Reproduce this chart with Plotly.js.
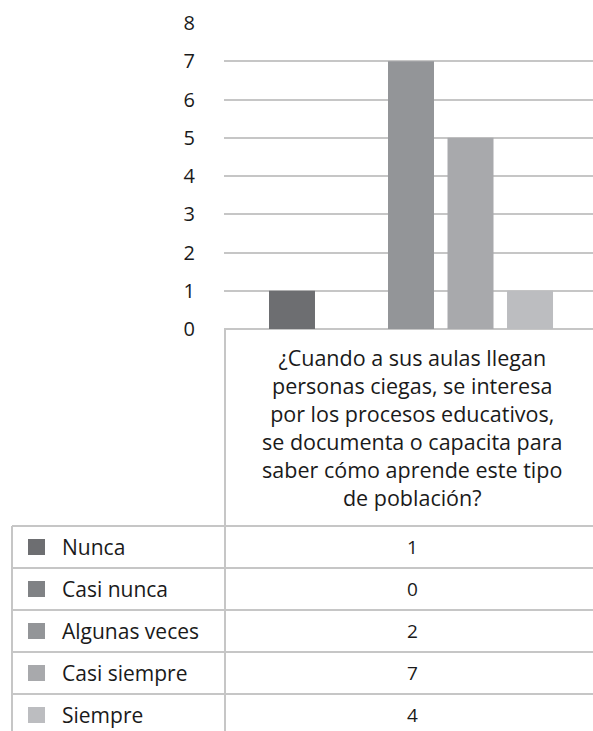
<!DOCTYPE html>
<html>
<head>
<meta charset="utf-8">
<script src="https://cdn.plot.ly/plotly-3.0.1.min.js"></script>
<style>
  html, body { margin: 0; padding: 0; background: #ffffff; }
  #chart { width: 593px; height: 731px; }
</style>
</head>
<body>
<div id="chart"></div>
<script>
// ---- data ----
var question = "¿Cuando a sus aulas llegan<br>personas ciegas, se interesa<br>por los procesos educativos,<br>se documenta o capacita para<br>saber cómo aprende este tipo<br>de población?";
var seriesNames = ["Nunca", "Casi nunca", "Algunas veces", "Casi siempre", "Siempre"];
var barValues = [1, 0, 7, 5, 1];          // bar heights as drawn
var tableValues = ["1", "0", "2", "7", "4"]; // numbers printed in the data table
var seriesColors = ["#6d6e71", "#808285", "#939598", "#a8a9ac", "#bcbdc0"];
var yTicks = [0, 1, 2, 3, 4, 5, 6, 7, 8];

// ---- layout helpers (pixel -> paper) ----
var W = 593, H = 731;
var L = 224, R = 0, T = 23, B = 402;
var pw = W - L - R, ph = H - T - B;
function px(x) { return (x - L) / pw; }
function py(y) { return (H - B - y) / ph; }

var FONT = "Open Sans, Noto Sans, sans-serif";
var LINE = "#c6c6c6";

var traces = seriesNames.map(function (name, i) {
  return {
    type: "bar",
    name: name,
    x: [question],
    y: [barValues[i]],
    marker: { color: seriesColors[i], line: { width: 0 } },
    hoverinfo: "name+y",
    showlegend: false
  };
});

var shapes = [];
var annotations = [];

// column divider (category boundary) from axis down through table
shapes.push({ type: "line", xref: "paper", yref: "paper",
  x0: px(225), x1: px(225), y0: py(329), y1: py(740),
  line: { color: LINE, width: 2 } });
// table left border
shapes.push({ type: "line", xref: "paper", yref: "paper",
  x0: px(12), x1: px(12), y0: py(526), y1: py(740),
  line: { color: LINE, width: 2 } });

var rowTop = 526, rowH = 42;
for (var r = 0; r <= seriesNames.length; r++) {
  var yy = rowTop + r * rowH;
  shapes.push({ type: "line", xref: "paper", yref: "paper",
    x0: px(12), x1: px(600), y0: py(yy), y1: py(yy),
    line: { color: LINE, width: 2 } });
}

seriesNames.forEach(function (name, i) {
  var cy = rowTop + i * rowH + rowH / 2;
  // legend key
  shapes.push({ type: "rect", xref: "paper", yref: "paper",
    x0: px(28), x1: px(45), y0: py(cy - 8), y1: py(cy + 8),
    fillcolor: seriesColors[i], line: { width: 0 } });
  annotations.push({ xref: "paper", yref: "paper",
    x: px(60), y: py(cy), xanchor: "left", yanchor: "middle",
    text: name, showarrow: false,
    font: { family: FONT, size: 21, color: "#1a1a1a" } });
  annotations.push({ xref: "paper", yref: "paper",
    x: px(412), y: py(cy), xanchor: "center", yanchor: "middle",
    text: tableValues[i], showarrow: false,
    font: { family: FONT, size: 19, color: "#1a1a1a" } });
});

// category label
annotations.push({ xref: "paper", yref: "paper",
  x: px(412), y: py(427), xanchor: "center", yanchor: "middle",
  text: question, showarrow: false, align: "center",
  font: { family: FONT, size: 21.5, color: "#1a1a1a" } });

var layout = {
  width: W, height: H,
  margin: { l: L, r: R, t: T, b: B, pad: 0 },
  paper_bgcolor: "#ffffff",
  plot_bgcolor: "#ffffff",
  barmode: "group",
  bargap: 0.2045,
  bargroupgap: 0.227,
  showlegend: false,
  xaxis: {
    type: "category",
    range: [-0.5, 0.4866],
    showticklabels: false,
    showgrid: false,
    showline: false,
    zeroline: false,
    ticks: "",
    fixedrange: true
  },
  yaxis: {
    range: [0, 8],
    tickvals: yTicks,
    ticktext: yTicks.map(String),
    showgrid: true,
    gridcolor: LINE,
    gridwidth: 2,
    zeroline: true,
    zerolinecolor: LINE,
    zerolinewidth: 2,
    showline: false,
    ticks: "",
    ticklabelstandoff: 28,
    tickfont: { family: FONT, size: 20, color: "#1a1a1a" },
    fixedrange: true
  },
  shapes: shapes,
  annotations: annotations
};

Plotly.newPlot("chart", traces, layout, { displayModeBar: false, staticPlot: true });
</script>
</body>
</html>
